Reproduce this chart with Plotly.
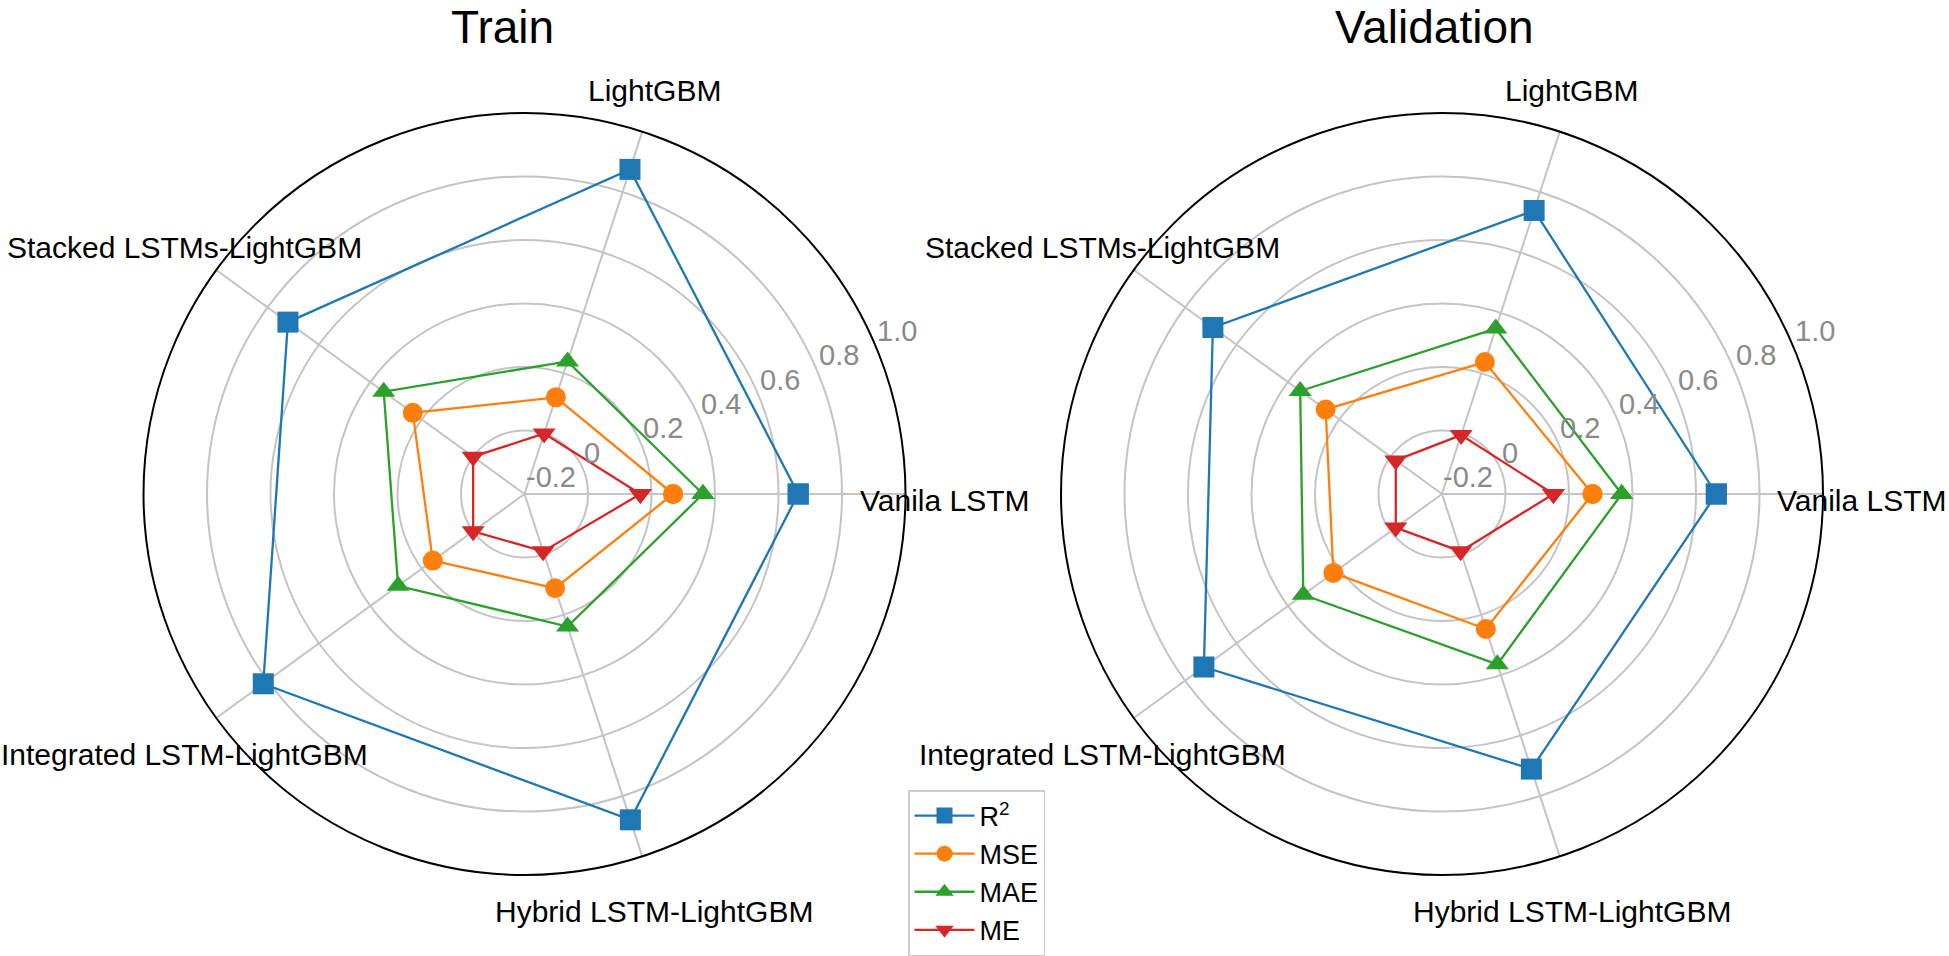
import math
import plotly.graph_objects as go

# ---------------- data ----------------
categories = ["Vanila LSTM", "LightGBM", "Stacked LSTMs-LightGBM",
              "Integrated LSTM-LightGBM", "Hybrid LSTM-LightGBM"]
metric_names = ["R<sup>2</sup>", "MSE", "MAE", "ME"]

train_r2 = [0.662, 0.875, 0.721, 0.817, 0.879]
train_mse = [0.268, 0.120, 0.235, 0.157, 0.112]
train_mae = [0.362, 0.239, 0.348, 0.292, 0.239]
train_me = [0.165, 0.000, 0.000, 0.000, -0.010]

val_r2 = [0.664, 0.739, 0.692, 0.727, 0.711]
val_mse = [0.274, 0.237, 0.253, 0.223, 0.247]
val_mae = [0.366, 0.348, 0.352, 0.340, 0.364]
val_me = [0.151, -0.005, -0.020, -0.020, -0.010]

radial_ticks = [-0.2, 0, 0.2, 0.4, 0.6, 0.8, 1.0]
radial_ticktext = ["-0.2", "0", "0.2", "0.4", "0.6", "0.8", "1.0"]
panel_titles = ["Train", "Validation"]

# ---------------- style ----------------
W, H = 1949, 956
R_PX = 381
CENTERS = [(524.5, 494.0), (1442.0, 494.0)]   # pixels
TITLE_X = [503, 1434]
colors = ["#1f77b4", "#ff7f0e", "#2ca02c", "#d62728"]
symbols = ["square", "circle", "triangle-up", "triangle-down"]
msizes = [21, 20, 20, 20]
FONT = "Liberation Sans, Arial, Helvetica, sans-serif"
RMIN, RMAX = radial_ticks[0], radial_ticks[-1]
RLABEL_ANGLE = 22.5


def px2paper(x, y):
    """pixel -> paper fraction of the figure"""
    return x / W, 1 - y / H


fig = go.Figure()
panels = [[train_r2, train_mse, train_mae, train_me],
          [val_r2, val_mse, val_mae, val_me]]

for p, series in enumerate(panels):
    sub = "polar" if p == 0 else "polar2"
    for k, vals in enumerate(series):
        fig.add_trace(go.Scatterpolar(
            r=vals + [vals[0]],
            theta=categories + [categories[0]],
            mode="lines+markers",
            name=metric_names[k],
            line=dict(color=colors[k], width=2.3),
            marker=dict(symbol=symbols[k], size=msizes[k], color=colors[k]),
            subplot=sub,
            showlegend=(p == 0),
            cliponaxis=False,
        ))

annotations = []
polar_layouts = {}
for p, (cx, cy) in enumerate(CENTERS):
    x0, y1 = px2paper(cx - R_PX, cy - R_PX)
    x1, y0 = px2paper(cx + R_PX, cy + R_PX)
    polar_layouts["polar" if p == 0 else "polar2"] = dict(
        domain=dict(x=[x0, x1], y=[y0, y1]),
        bgcolor="white",
        radialaxis=dict(range=[RMIN, RMAX], tickvals=radial_ticks,
                        showticklabels=False, ticks="", showline=False,
                        gridcolor="#c4c4c4", gridwidth=1.5, angle=RLABEL_ANGLE),
        angularaxis=dict(type="category", categoryarray=categories,
                         rotation=0, direction="counterclockwise",
                         showticklabels=False, ticks="",
                         showline=True, linecolor="black", linewidth=2,
                         gridcolor="#c4c4c4", gridwidth=1.5),
    )
    # category labels (placed like matplotlib's theta grid labels)
    n = len(categories)
    for i, c in enumerate(categories):
        a = math.radians(360.0 * i / n)
        lx = cx + 420 * math.cos(a)
        ly = cy - 432 * math.sin(a) + 10 - 3
        ax_, ay_ = px2paper(lx, ly)
        annotations.append(dict(x=ax_, y=ay_, xref="paper", yref="paper",
                                text=c, showarrow=False, xanchor="center",
                                yanchor="middle", borderpad=0,
                                font=dict(family=FONT, size=30, color="black")))
    # radial tick labels
    for v, t in zip(radial_ticks, radial_ticktext):
        rp = (v - RMIN) / (RMAX - RMIN) * R_PX
        a = math.radians(RLABEL_ANGLE)
        lx = cx + rp * math.cos(a)
        ly = cy - rp * math.sin(a)
        ax_, ay_ = px2paper(lx, ly)
        annotations.append(dict(x=ax_, y=ay_, xref="paper", yref="paper",
                                text=t, showarrow=False, xanchor="left",
                                yanchor="bottom", borderpad=0,
                                font=dict(family=FONT, size=29, color="#8a8a8a")))
    # title
    tx, ty = px2paper(TITLE_X[p], 0)
    annotations.append(dict(x=tx, y=ty, xref="paper", yref="paper",
                            text=panel_titles[p], showarrow=False,
                            xanchor="center", yanchor="top", borderpad=0,
                            font=dict(family=FONT, size=46, color="black")))

lx, ly = px2paper(908, 790)
fig.update_layout(
    width=W, height=H,
    margin=dict(l=0, r=0, t=0, b=0, autoexpand=False),
    paper_bgcolor="white",
    plot_bgcolor="white",
    font=dict(family=FONT, size=30, color="black"),
    annotations=annotations,
    legend=dict(x=lx, y=ly, xanchor="left", yanchor="top",
                bgcolor="white", bordercolor="#cccccc", borderwidth=1.5,
                font=dict(family=FONT, size=27, color="black"),
                tracegroupgap=0, itemwidth=60),
    **polar_layouts,
)

fig.write_html("out.html", config={"displayModeBar": False},
               post_script="document.body.style.margin='0';"
                           "document.body.style.overflow='hidden';")
